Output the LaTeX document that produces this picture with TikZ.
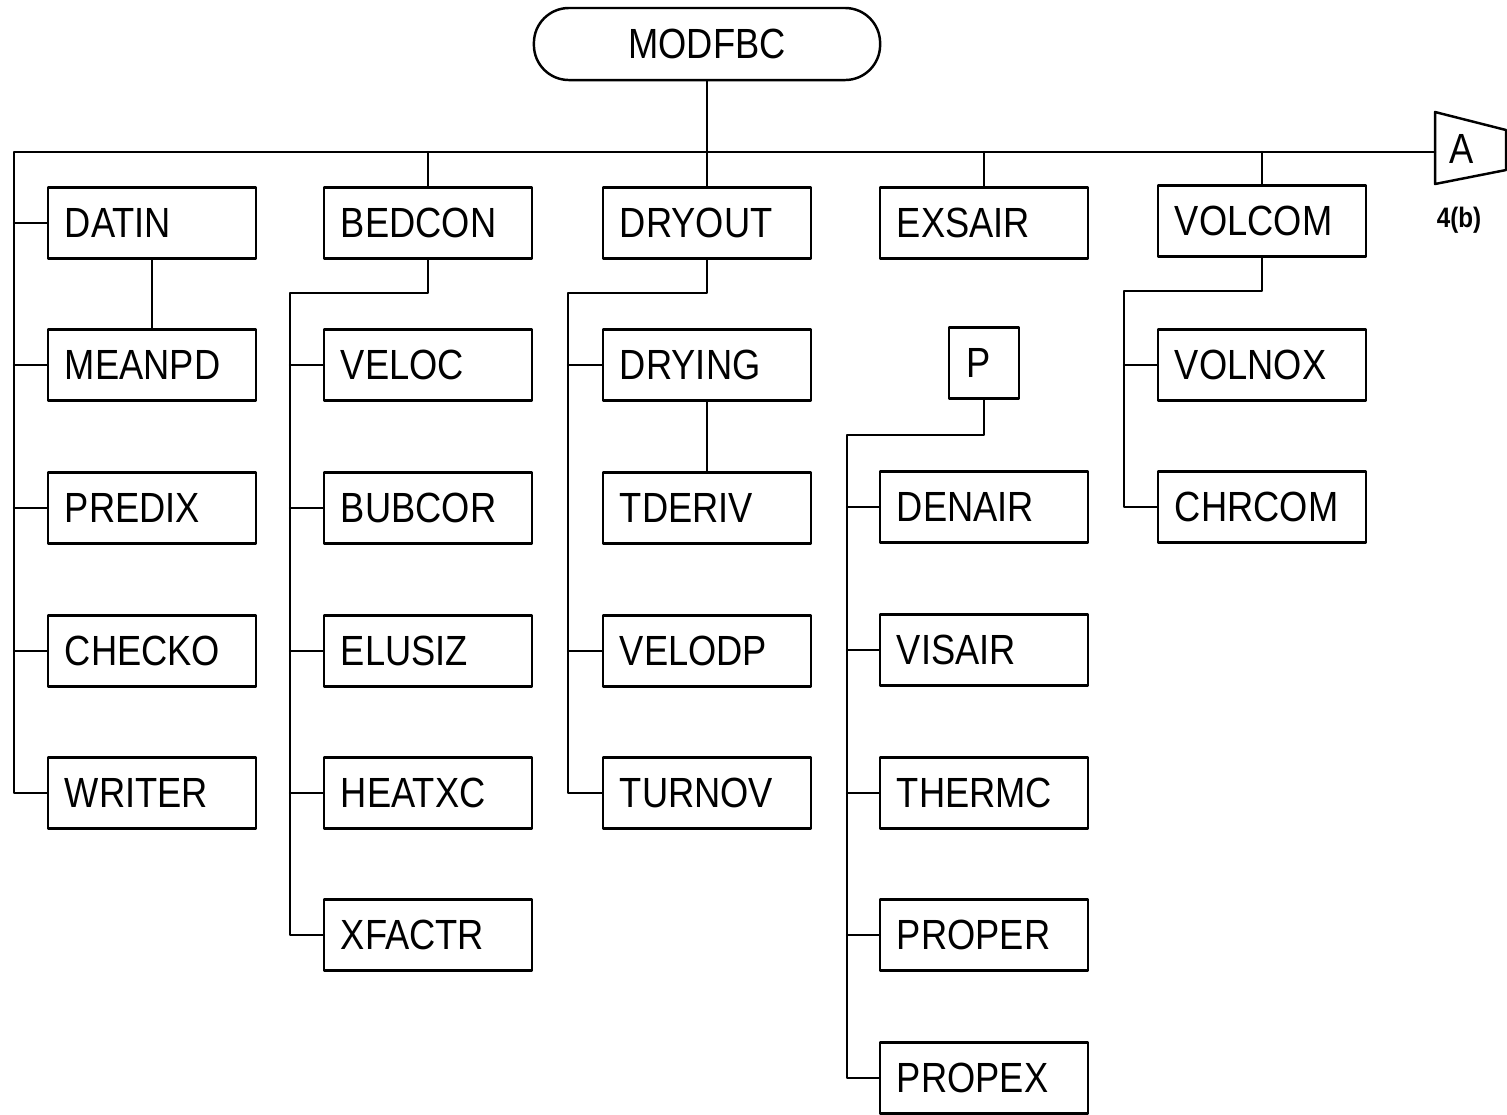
\documentclass[tikz,border=0pt]{standalone}
\usepackage{fontspec}
\setmainfont{Liberation Sans}[FakeStretch=0.86]
\usetikzlibrary{calc}

\begin{document}
\begin{tikzpicture}[
  x=0.01cm,y=-0.01cm,
  line cap=round,
  line join=round,
  link/.style={draw=black,line width=0.7pt},
  routine/.style={draw=black,line width=0.7pt,minimum height=0.71cm,
    text width=1.74cm,inner xsep=0.17cm,inner ysep=0pt,align=left,
    font=\fontsize{12}{14}\selectfont},
  pbox/.style={routine,text width=0.36cm},
  mainprog/.style={draw=black,line width=0.7pt,rounded corners=0.35cm,
    minimum width=3.46cm,minimum height=0.72cm,
    font=\fontsize{12}{14}\selectfont},
  offpage/.style={draw=black,line width=0.7pt}
]
  \useasboundingbox (0,0) rectangle (1507,1114);

  % Main program
  \node[mainprog] (MODFBC) at (707,44) {MODFBC};

  % Off-page connector
  \draw[offpage] (1435,112) -- (1506,130) -- (1506,170) -- (1435,184) -- cycle;
  \node[font=\fontsize{12}{14}\selectfont] (A) at (1462,149) {A};
  \node[font=\bfseries\fontsize{8}{9}\selectfont] (Aref) at (1459,220) {4(b)};
  \coordinate (Ain) at (1435,152);
  \coordinate (bus) at (14,152);

  % First level
  \node[routine] (DATIN)  at (152,223) {DATIN};
  \node[routine] (BEDCON) at (428,223) {BEDCON};
  \node[routine] (DRYOUT) at (707,223) {DRYOUT};
  \node[routine] (EXSAIR) at (984,223) {EXSAIR};
  \node[routine] (VOLCOM) at (1262,221) {VOLCOM};

  % Column one
  \node[routine] (MEANPD) at (152,365) {MEANPD};
  \node[routine] (PREDIX) at (152,508) {PREDIX};
  \node[routine] (CHECKO) at (152,651) {CHECKO};
  \node[routine] (WRITER) at (152,793) {WRITER};

  % Column two
  \node[routine] (VELOC)  at (428,365) {VELOC};
  \node[routine] (BUBCOR) at (428,508) {BUBCOR};
  \node[routine] (ELUSIZ) at (428,651) {ELUSIZ};
  \node[routine] (HEATXC) at (428,793) {HEATXC};
  \node[routine] (XFACTR) at (428,935) {XFACTR};

  % Column three
  \node[routine] (DRYING) at (707,365) {DRYING};
  \node[routine] (TDERIV) at (707,508) {TDERIV};
  \node[routine] (VELODP) at (707,651) {VELODP};
  \node[routine] (TURNOV) at (707,793) {TURNOV};

  % Column four
  \node[pbox]    (P)      at (984,363) {P};
  \node[routine] (DENAIR) at (984,507) {DENAIR};
  \node[routine] (VISAIR) at (984,650) {VISAIR};
  \node[routine] (THERMC) at (984,793) {THERMC};
  \node[routine] (PROPER) at (984,935) {PROPER};
  \node[routine] (PROPEX) at (984,1078) {PROPEX};

  % Column five
  \node[routine] (VOLNOX) at (1262,365) {VOLNOX};
  \node[routine] (CHRCOM) at (1262,507) {CHRCOM};

  % Main bus
  \draw[link] (MODFBC.south) -- (MODFBC.south |- DRYOUT.north);
  \draw[link] (Ain) -- (bus) |- (WRITER.west);
  \foreach \n in {DATIN,MEANPD,PREDIX,CHECKO}
    \draw[link] (bus |- \n.west) -- (\n.west);
  \foreach \n in {BEDCON,EXSAIR,VOLCOM}
    \draw[link] (\n.north) -- (\n.north |- bus);
  \draw[link] (DATIN.south) -- (MEANPD.north);

  % Sub trees
  \coordinate (bedtrunk) at (290,293);
  \draw[link] (BEDCON.south) |- (bedtrunk) |- (XFACTR.west);
  \foreach \n in {VELOC,BUBCOR,ELUSIZ,HEATXC}
    \draw[link] (bedtrunk |- \n.west) -- (\n.west);

  \coordinate (drytrunk) at (568,293);
  \draw[link] (DRYOUT.south) |- (drytrunk) |- (TURNOV.west);
  \foreach \n in {DRYING,VELODP}
    \draw[link] (drytrunk |- \n.west) -- (\n.west);
  \draw[link] (DRYING.south) -- (TDERIV.north);

  \coordinate (ptrunk) at (847,435);
  \draw[link] (P.south) |- (ptrunk) |- (PROPEX.west);
  \foreach \n in {DENAIR,VISAIR,THERMC,PROPER}
    \draw[link] (ptrunk |- \n.west) -- (\n.west);

  \coordinate (voltrunk) at (1124,291);
  \draw[link] (VOLCOM.south) |- (voltrunk) |- (CHRCOM.west);
  \draw[link] (voltrunk |- VOLNOX.west) -- (VOLNOX.west);
\end{tikzpicture}
\end{document}
